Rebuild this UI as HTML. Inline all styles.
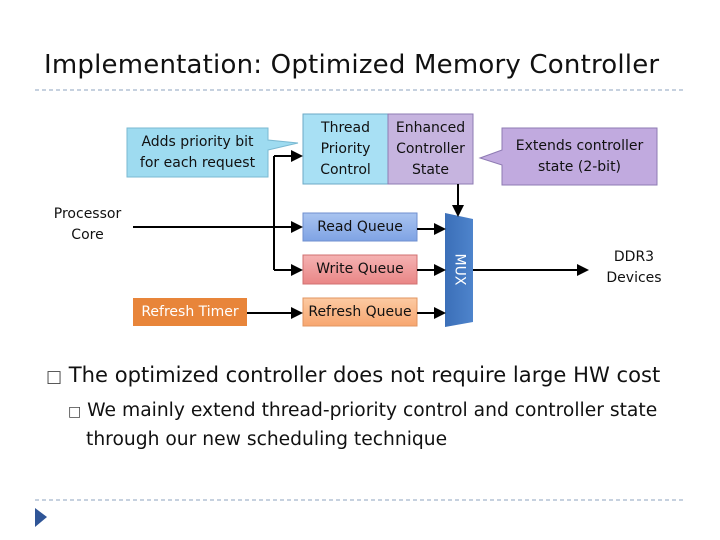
<!DOCTYPE html>
<html><head><meta charset="utf-8"><style>
body{margin:0;width:720px;height:540px;background:#fff;position:relative;overflow:hidden;font-family:"DejaVu Sans","Liberation Sans",sans-serif;color:#111}
.a{position:absolute;white-space:nowrap}
.c{text-align:center;font-size:14px;line-height:21px}
</style></head><body>
<div class="a" style="left:44px;top:50px;font-size:26px;letter-spacing:0.2px">Implementation: Optimized Memory Controller</div>
<svg class="a" style="left:0;top:0" width="720" height="540">
<defs>
<marker id="m" markerWidth="6" markerHeight="6" refX="5" refY="3" orient="auto"><path d="M0,0L6,3L0,6z" fill="#000"/></marker>
<linearGradient id="b" x1="0" x2="0" y1="0" y2="1"><stop offset="0" stop-color="#a9c4f0"/><stop offset="1" stop-color="#7fa3e4"/></linearGradient>
<linearGradient id="r" x1="0" x2="0" y1="0" y2="1"><stop offset="0" stop-color="#f5b3b3"/><stop offset="1" stop-color="#e98686"/></linearGradient>
<linearGradient id="o" x1="0" x2="0" y1="0" y2="1"><stop offset="0" stop-color="#fccaa2"/><stop offset="1" stop-color="#f7a670"/></linearGradient>
<linearGradient id="mx" x1="0" x2="1"><stop offset="0" stop-color="#3b6fb8"/><stop offset="1" stop-color="#4e84cc"/></linearGradient>
</defs>
<line x1="35" y1="90" x2="686" y2="90" stroke="#8ea3bf" stroke-dasharray="4,3"/>
<line x1="35" y1="500" x2="686" y2="500" stroke="#8ea3bf" stroke-dasharray="4,3"/>
<path d="M35,508L47,517L35,527z" fill="#2f5597"/>
<path d="M127,128H268V140L298,143L268,150V177H127z" fill="#9edbf0" stroke="#7ab9d2"/>
<rect x="303" y="114" width="85" height="70" fill="#a8e0f4" stroke="#6ba9c6"/>
<rect x="388" y="114" width="85" height="70" fill="#c6b4df" stroke="#8e7bb3"/>
<path d="M502,128H657V185H502V165L480,158L502,150z" fill="#c1aadf" stroke="#8e7bb3"/>
<rect x="303" y="213" width="114" height="28" fill="url(#b)" stroke="#6f8fcf"/>
<rect x="303" y="255" width="114" height="29" fill="url(#r)" stroke="#d07070"/>
<rect x="303" y="298" width="114" height="28" fill="url(#o)" stroke="#e29560"/>
<rect x="133" y="298" width="114" height="28" fill="#e8853a"/>
<path d="M445,213L473,219V322L445,327z" fill="url(#mx)"/>
<g stroke="#000" stroke-width="2" fill="none">
<line x1="274" y1="156" x2="274" y2="270"/>
<line x1="274" y1="156" x2="301" y2="156" marker-end="url(#m)"/>
<line x1="274" y1="270" x2="301" y2="270" marker-end="url(#m)"/>
<line x1="133" y1="227" x2="301" y2="227" marker-end="url(#m)"/>
<line x1="247" y1="313" x2="301" y2="313" marker-end="url(#m)"/>
<line x1="417" y1="229" x2="444" y2="229" marker-end="url(#m)"/>
<line x1="417" y1="270" x2="444" y2="270" marker-end="url(#m)"/>
<line x1="417" y1="313" x2="444" y2="313" marker-end="url(#m)"/>
<line x1="458" y1="184" x2="458" y2="215" marker-end="url(#m)"/>
<line x1="473" y1="270" x2="587" y2="270" marker-end="url(#m)"/>
</g>
</svg>
<div class="a c" style="left:127px;top:132px;width:141px">Adds priority bit<br>for each request</div>
<div class="a c" style="left:303px;top:118px;width:85px">Thread<br>Priority<br>Control</div>
<div class="a c" style="left:388px;top:118px;width:85px">Enhanced<br>Controller<br>State</div>
<div class="a c" style="left:502px;top:136px;width:155px">Extends controller<br>state (2-bit)</div>
<div class="a c" style="left:40px;top:204px;width:95px">Processor<br>Core</div>
<div class="a c" style="left:303px;top:217px;width:114px">Read Queue</div>
<div class="a c" style="left:303px;top:259px;width:114px">Write Queue</div>
<div class="a c" style="left:303px;top:302px;width:114px">Refresh Queue</div>
<div class="a c" style="left:133px;top:302px;width:114px;color:#fff">Refresh Timer</div>
<div class="a c" style="left:430px;top:259px;width:58px;color:#fff;transform:rotate(90deg)">MUX</div>
<div class="a c" style="left:590px;top:247px;width:88px">DDR3<br>Devices</div>
<div class="a" style="left:46px;top:362px;font-size:21.1px"><span style="color:#444;font-size:17px">&#9633;</span> The optimized controller does not require large HW cost</div>
<div class="a" style="left:68px;top:397px;font-size:18.7px;line-height:28px"><span style="color:#444;font-size:14px">&#9633;</span> We mainly extend thread-priority control and controller state<br><span style="margin-left:18px">through our new scheduling technique</span></div>
</body></html>
